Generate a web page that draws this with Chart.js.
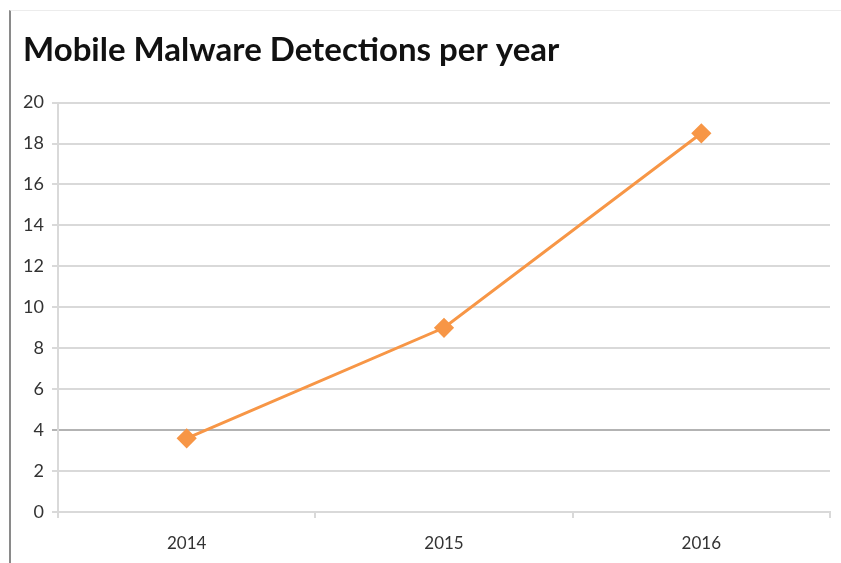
<!DOCTYPE html>
<html>
<head>
<meta charset="utf-8">
<title>Mobile Malware Detections per year</title>
<script src="https://cdn.jsdelivr.net/npm/chart.js@4/dist/chart.umd.min.js"></script>
<style>
  html, body { margin: 0; padding: 0; background: #fff; }
  #frame {
    position: absolute; left: 9px; top: 10px; width: 832px; height: 553px;
    border-left: 2px solid #8a8a8a; border-top: 1px solid #ececec;
  }
  #wrap { position: absolute; left: 0; top: 0; width: 841px; height: 563px; }
</style>
</head>
<body>
<div id="frame"></div>
<div id="wrap"><canvas id="malwareChart" width="841" height="563"></canvas></div>
<script>
// detections per year (millions)
const years = ["2014", "2015", "2016"]
const detections = [3.6, 9.0, 18.5]
const yTicks = [0, 2, 4, 6, 8, 10, 12, 14, 16, 18, 20]

const orange = "#F79646"
const gridGray = "#d9d9d9"
const labelFont = "Lato, 'DejaVu Sans Condensed', sans-serif"

const ctx = document.getElementById("malwareChart").getContext("2d")

new Chart(ctx, {
  type: "line",
  data: {
    labels: years,
    datasets: [{
      data: detections,
      borderColor: orange,
      backgroundColor: orange,
      borderWidth: 3,
      pointStyle: "rectRot",
      pointRadius: 8,
      pointHoverRadius: 8,
      tension: 0
    }]
  },
  options: {
    responsive: false,
    animation: false,
    layout: { padding: { top: 22, left: 23, right: 9, bottom: 0 } },
    plugins: {
      legend: { display: false },
      tooltip: { enabled: false },
      title: {
        display: true,
        text: "Mobile Malware Detections per year",
        align: "start",
        color: "#111",
        font: { family: labelFont, size: 33, weight: "bold" },
        padding: { top: 9, bottom: 32 }
      }
    },
    scales: {
      x: {
        offset: true,
        afterFit: axis => { axis.height = 51 },
        grid: {
          offset: true,
          drawOnChartArea: false,
          color: gridGray,
          lineWidth: 2,
          tickLength: 6
        },
        border: { color: gridGray, width: 2 },
        ticks: {
          color: "#333",
          padding: 15,
          font: { family: labelFont, size: 17 }
        }
      },
      y: {
        min: 0,
        max: 20,
        afterFit: axis => { axis.width = 35 },
        afterBuildTicks: axis => { axis.ticks = yTicks.map(v => ({ value: v })) },
        grid: {
          color: c => c.tick && c.tick.value === 4 ? "#b3b3b3" : gridGray,
          lineWidth: 2,
          tickLength: 6
        },
        border: { color: gridGray, width: 2 },
        ticks: {
          color: "#333",
          padding: 8,
          font: { family: labelFont, size: 18 }
        }
      }
    }
  }
})
</script>
</body>
</html>
